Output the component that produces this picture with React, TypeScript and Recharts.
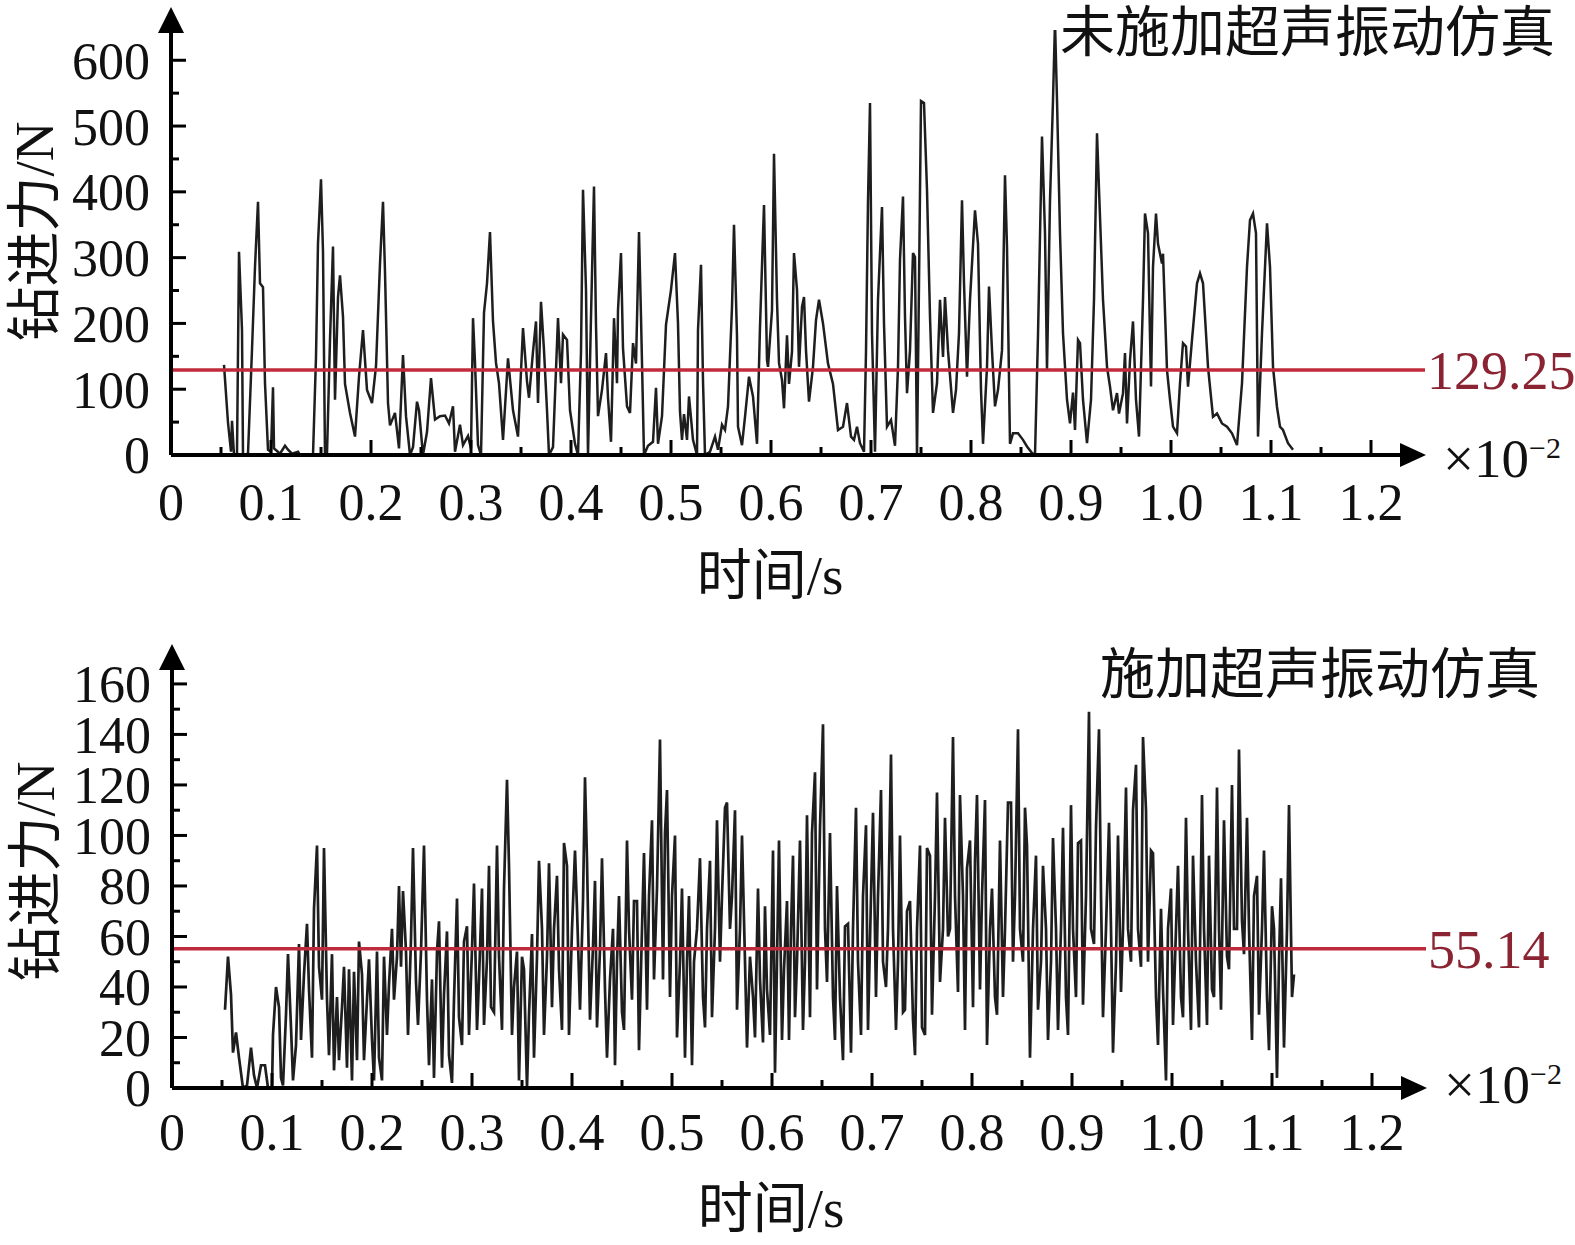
import { LineChart, Line, XAxis, YAxis, ReferenceLine, ReferenceDot } from "recharts";

const SERIF = '"Liberation Serif", "Times New Roman", "Noto Sans CJK SC", serif';
const INK = "#111111";
const TRACE = "#1e1e1e";
const RED_LINE = "#bf2b3b";
const RED_TEXT = "#8a2433";

const TOP_TITLE = "未施加超声振动仿真";
const BOTTOM_TITLE = "施加超声振动仿真";
const Y_TITLE = "钻进力/N";
const X_TITLE = "时间/s";

const X_TICKS = [0, 0.1, 0.2, 0.3, 0.4, 0.5, 0.6, 0.7, 0.8, 0.9, 1.0, 1.1, 1.2];
const X_MINOR = [0.05, 0.15, 0.25, 0.35, 0.45, 0.55, 0.65, 0.75, 0.85, 0.95, 1.05, 1.15];

const TOP_Y_TICKS = [0, 100, 200, 300, 400, 500, 600];
const TOP_Y_MINOR = [50, 150, 250, 350, 450, 550];
const BOTTOM_Y_TICKS = [0, 20, 40, 60, 80, 100, 120, 140, 160];
const BOTTOM_Y_MINOR = [10, 30, 50, 70, 90, 110, 130, 150];

const TOP_MEAN = 129.25;
const BOTTOM_MEAN = 55.14;

// [time (×10^-2 s), force (N)]
const TOP_POINTS: [number, number][] = [
  [0.053,137],[0.057,49],[0.060,5],[0.061,52],[0.063,0],[0.066,2],[0.068,309],[0.071,190],[0.072,0],[0.077,2],
  [0.081,160],[0.084,286],[0.087,385],[0.089,261],[0.092,255],[0.094,109],[0.097,8],[0.100,5],[0.102,103],[0.103,10],
  [0.106,6],[0.109,2],[0.114,14],[0.117,8],[0.121,2],[0.127,5],[0.129,0],[0.142,0],[0.145,149],[0.147,322],
  [0.150,419],[0.152,309],[0.154,0],[0.156,2],[0.159,175],[0.162,317],[0.164,84],[0.167,240],[0.169,273],[0.172,210],
  [0.174,108],[0.179,64],[0.184,28],[0.188,119],[0.192,190],[0.196,99],[0.201,79],[0.205,135],[0.209,291],[0.212,385],
  [0.214,278],[0.217,79],[0.219,45],[0.224,64],[0.228,10],[0.232,152],[0.235,59],[0.239,0],[0.242,12],[0.246,81],
  [0.248,68],[0.252,0],[0.256,35],[0.260,117],[0.264,54],[0.269,59],[0.274,60],[0.278,48],[0.282,74],[0.284,5],
  [0.289,46],[0.292,15],[0.297,29],[0.300,10],[0.302,208],[0.304,140],[0.307,15],[0.310,0],[0.313,216],[0.316,261],
  [0.319,339],[0.322,203],[0.325,140],[0.328,109],[0.332,23],[0.337,147],[0.342,68],[0.347,28],[0.352,193],[0.356,112],
  [0.358,87],[0.362,157],[0.365,203],[0.367,79],[0.370,233],[0.373,159],[0.376,68],[0.378,0],[0.382,12],[0.387,208],
  [0.390,109],[0.392,183],[0.396,175],[0.399,68],[0.404,17],[0.407,0],[0.410,157],[0.412,403],[0.415,251],[0.417,0],
  [0.420,210],[0.423,408],[0.425,198],[0.427,59],[0.431,99],[0.435,155],[0.437,87],[0.440,20],[0.443,208],[0.446,109],
  [0.447,220],[0.450,307],[0.452,162],[0.456,74],[0.459,64],[0.462,170],[0.465,139],[0.468,339],[0.470,210],[0.473,0],
  [0.477,14],[0.482,20],[0.485,102],[0.487,17],[0.491,59],[0.495,198],[0.500,251],[0.504,307],[0.507,200],[0.509,66],
  [0.511,23],[0.513,62],[0.516,23],[0.518,89],[0.522,23],[0.526,0],[0.527,190],[0.530,289],[0.532,113],[0.534,0],
  [0.539,5],[0.544,28],[0.547,8],[0.551,46],[0.554,38],[0.557,74],[0.561,225],[0.563,350],[0.566,180],[0.567,43],
  [0.571,15],[0.574,58],[0.578,119],[0.582,89],[0.586,17],[0.589,195],[0.593,380],[0.596,144],[0.597,134],[0.601,220],
  [0.603,458],[0.606,235],[0.608,140],[0.611,114],[0.613,71],[0.616,182],[0.618,108],[0.621,157],[0.623,307],[0.626,251],
  [0.628,134],[0.631,225],[0.633,240],[0.635,159],[0.638,81],[0.642,134],[0.645,205],[0.648,236],[0.652,200],[0.657,139],
  [0.662,108],[0.667,38],[0.672,43],[0.676,79],[0.680,28],[0.683,23],[0.686,43],[0.689,18],[0.693,5],[0.695,157],
  [0.697,387],[0.699,535],[0.701,185],[0.704,5],[0.707,236],[0.711,377],[0.713,200],[0.716,43],[0.720,53],[0.724,14],
  [0.727,134],[0.729,297],[0.732,393],[0.734,210],[0.736,94],[0.739,159],[0.742,307],[0.744,301],[0.746,0],[0.748,261],
  [0.750,538],[0.753,535],[0.756,403],[0.759,210],[0.762,64],[0.766,109],[0.769,236],[0.772,149],[0.774,240],[0.777,159],
  [0.782,64],[0.785,99],[0.788,185],[0.791,387],[0.793,261],[0.796,119],[0.799,236],[0.804,372],[0.807,321],[0.810,99],
  [0.812,17],[0.816,134],[0.818,256],[0.821,159],[0.824,74],[0.827,99],[0.831,159],[0.834,425],[0.836,316],[0.839,17],
  [0.842,33],[0.847,33],[0.852,23],[0.856,13],[0.861,3],[0.864,0],[0.867,182],[0.871,484],[0.874,337],[0.876,129],
  [0.879,387],[0.882,540],[0.884,658],[0.886,540],[0.889,337],[0.892,185],[0.896,84],[0.899,48],[0.902,95],[0.904,38],
  [0.907,175],[0.909,170],[0.912,84],[0.916,18],[0.920,84],[0.923,236],[0.926,489],[0.929,362],[0.932,236],[0.936,134],
  [0.939,104],[0.942,68],[0.946,94],[0.948,63],[0.952,94],[0.954,155],[0.956,48],[0.959,144],[0.962,203],[0.965,84],
  [0.968,28],[0.972,236],[0.974,367],[0.977,337],[0.980,104],[0.982,286],[0.985,367],[0.987,321],[0.991,291],[0.992,306],
  [0.996,129],[0.999,84],[1.002,43],[1.006,33],[1.009,109],[1.012,170],[1.015,165],[1.017,104],[1.021,175],[1.026,261],
  [1.029,276],[1.032,261],[1.037,134],[1.042,58],[1.046,63],[1.051,48],[1.056,43],[1.061,33],[1.066,15],[1.071,109],
  [1.076,286],[1.079,357],[1.082,367],[1.085,337],[1.087,28],[1.091,185],[1.096,352],[1.099,286],[1.102,134],[1.106,73],
  [1.109,43],[1.112,38],[1.117,18],[1.122,8],
];

const BOTTOM_POINTS: [number, number][] = [
  [0.053,31],[0.056,52],[0.059,37],[0.061,14],[0.064,22],[0.067,12],[0.071,0],[0.075,1],[0.079,16],[0.082,5],
  [0.085,0],[0.089,9],[0.093,9],[0.096,0],[0.100,0],[0.101,21],[0.104,40],[0.107,32],[0.109,4],[0.111,1],
  [0.114,29],[0.116,53],[0.119,24],[0.121,3],[0.124,17],[0.127,57],[0.129,19],[0.132,45],[0.135,65],[0.137,39],
  [0.140,12],[0.142,71],[0.145,96],[0.147,48],[0.150,35],[0.152,95],[0.155,35],[0.157,13],[0.160,53],[0.162,7],
  [0.165,36],[0.167,11],[0.170,32],[0.172,48],[0.175,8],[0.177,47],[0.180,3],[0.182,46],[0.185,11],[0.187,58],
  [0.190,45],[0.192,11],[0.195,35],[0.197,51],[0.200,19],[0.202,3],[0.205,54],[0.207,12],[0.210,3],[0.212,52],
  [0.215,21],[0.217,41],[0.220,63],[0.222,35],[0.225,52],[0.227,80],[0.229,48],[0.231,78],[0.234,54],[0.236,21],
  [0.239,59],[0.241,95],[0.244,42],[0.246,25],[0.249,54],[0.252,96],[0.255,35],[0.257,9],[0.260,43],[0.262,4],
  [0.265,54],[0.267,66],[0.270,8],[0.272,37],[0.275,62],[0.277,13],[0.280,2],[0.282,35],[0.285,75],[0.287,28],
  [0.290,17],[0.292,58],[0.295,64],[0.297,21],[0.300,55],[0.302,81],[0.305,23],[0.307,43],[0.310,79],[0.312,25],
  [0.315,51],[0.317,88],[0.319,32],[0.322,30],[0.325,96],[0.327,52],[0.330,23],[0.332,79],[0.335,122],[0.337,88],
  [0.340,21],[0.342,40],[0.345,54],[0.347,3],[0.350,52],[0.352,47],[0.355,0],[0.357,29],[0.360,61],[0.362,12],
  [0.365,52],[0.367,90],[0.370,63],[0.372,21],[0.375,52],[0.377,89],[0.380,32],[0.382,63],[0.385,84],[0.387,47],
  [0.390,23],[0.392,97],[0.395,88],[0.397,21],[0.400,63],[0.403,94],[0.405,71],[0.408,31],[0.411,74],[0.413,123],
  [0.415,90],[0.418,27],[0.421,56],[0.423,82],[0.425,24],[0.428,55],[0.430,91],[0.433,39],[0.435,12],[0.438,43],
  [0.441,63],[0.443,9],[0.445,50],[0.447,76],[0.450,30],[0.452,23],[0.455,98],[0.457,63],[0.460,35],[0.462,74],
  [0.465,74],[0.467,15],[0.470,63],[0.472,93],[0.475,31],[0.477,76],[0.480,106],[0.482,43],[0.485,79],[0.488,138],
  [0.491,43],[0.493,101],[0.495,118],[0.498,36],[0.500,76],[0.503,100],[0.505,20],[0.508,50],[0.510,79],[0.513,12],
  [0.515,50],[0.517,76],[0.520,9],[0.522,50],[0.525,63],[0.528,91],[0.531,36],[0.533,24],[0.535,63],[0.538,90],
  [0.540,28],[0.543,63],[0.545,106],[0.548,50],[0.550,76],[0.553,111],[0.555,113],[0.558,63],[0.560,76],[0.563,110],
  [0.565,31],[0.568,63],[0.570,100],[0.573,50],[0.575,16],[0.578,52],[0.581,36],[0.583,20],[0.586,79],[0.588,43],
  [0.591,18],[0.593,72],[0.595,39],[0.598,21],[0.601,94],[0.603,6],[0.605,50],[0.607,98],[0.610,19],[0.612,47],
  [0.615,74],[0.617,19],[0.619,63],[0.621,92],[0.623,28],[0.625,50],[0.628,98],[0.631,23],[0.633,50],[0.635,108],
  [0.638,28],[0.640,101],[0.643,125],[0.645,39],[0.648,103],[0.651,144],[0.653,63],[0.655,42],[0.658,101],[0.661,36],
  [0.663,19],[0.665,80],[0.668,36],[0.671,11],[0.673,64],[0.676,65],[0.679,14],[0.681,63],[0.684,111],[0.686,50],
  [0.689,21],[0.691,76],[0.694,104],[0.696,23],[0.699,76],[0.701,109],[0.704,36],[0.706,76],[0.709,118],[0.711,50],
  [0.714,40],[0.716,63],[0.719,132],[0.721,63],[0.724,23],[0.726,50],[0.728,100],[0.731,30],[0.733,31],[0.735,70],
  [0.738,74],[0.741,27],[0.743,13],[0.745,63],[0.748,96],[0.750,24],[0.753,21],[0.755,95],[0.758,92],[0.760,29],
  [0.763,76],[0.765,117],[0.768,42],[0.771,63],[0.773,107],[0.776,60],[0.778,63],[0.781,139],[0.783,76],[0.786,38],
  [0.788,116],[0.791,76],[0.793,23],[0.795,87],[0.798,98],[0.801,32],[0.803,90],[0.805,116],[0.808,39],[0.810,76],
  [0.813,114],[0.815,17],[0.818,63],[0.820,79],[0.823,36],[0.825,29],[0.828,98],[0.831,36],[0.833,63],[0.836,113],
  [0.839,113],[0.841,50],[0.843,76],[0.846,142],[0.848,63],[0.851,50],[0.853,111],[0.855,96],[0.858,12],[0.861,63],
  [0.864,92],[0.866,31],[0.869,50],[0.871,88],[0.874,63],[0.876,19],[0.879,50],[0.881,99],[0.884,63],[0.886,23],
  [0.889,63],[0.891,103],[0.894,36],[0.896,21],[0.899,112],[0.901,63],[0.904,36],[0.906,97],[0.909,98],[0.911,33],
  [0.914,76],[0.917,149],[0.919,63],[0.922,57],[0.924,103],[0.927,142],[0.929,76],[0.931,28],[0.934,63],[0.937,105],
  [0.939,63],[0.941,14],[0.944,50],[0.946,100],[0.949,38],[0.951,63],[0.954,119],[0.956,63],[0.959,50],[0.961,110],
  [0.964,128],[0.966,63],[0.969,48],[0.971,139],[0.974,110],[0.976,50],[0.979,94],[0.981,93],[0.984,36],[0.986,17],
  [0.989,71],[0.991,39],[0.994,3],[0.996,63],[0.999,79],[1.001,25],[1.004,63],[1.006,88],[1.009,36],[1.011,28],
  [1.014,107],[1.016,63],[1.019,23],[1.021,92],[1.024,50],[1.027,24],[1.030,116],[1.032,63],[1.035,25],[1.037,92],
  [1.040,39],[1.042,36],[1.045,119],[1.047,63],[1.049,31],[1.052,106],[1.055,52],[1.057,47],[1.060,120],[1.062,63],
  [1.065,63],[1.067,134],[1.070,66],[1.072,53],[1.075,107],[1.077,63],[1.080,19],[1.082,76],[1.085,84],[1.087,29],
  [1.090,63],[1.092,94],[1.095,36],[1.097,15],[1.100,72],[1.102,63],[1.105,4],[1.107,50],[1.109,83],[1.112,16],
  [1.115,63],[1.117,112],[1.120,36],[1.122,45],
];

const X_MAX = 1.23;

function fmtX(v: number) {
  return v === 0 ? "0" : v.toFixed(1);
}

// short inward tick marks, anchored through the chart scales
const upTick = (len: number) => (p: any) => (
  <line x1={p.cx} y1={p.cy} x2={p.cx} y2={p.cy - len} stroke="#000" strokeWidth={3} />
);
const rightTick = (len: number) => (p: any) => (
  <line x1={p.cx} y1={p.cy} x2={p.cx + len} y2={p.cy} stroke="#000" strokeWidth={3} />
);
const upArrow = (p: any) => (
  <polygon points={`${p.cx},${p.cy - 23} ${p.cx - 13},${p.cy + 3} ${p.cx + 13},${p.cy + 3}`} fill="#000" />
);
const rightArrow = (p: any) => (
  <polygon points={`${p.cx + 25},${p.cy} ${p.cx - 1},${p.cy - 12} ${p.cx - 1},${p.cy + 12}`} fill="#000" />
);

function YTitle(props: any) {
  const { viewBox, shiftY = 0 } = props;
  const x = viewBox.x + 32;
  const y = viewBox.y + viewBox.height / 2 + shiftY;
  return (
    <text x={x} y={y} transform={`rotate(-90 ${x} ${y})`} textAnchor="middle" fontSize={55} fontFamily={SERIF} fill={INK}>
      {Y_TITLE}
    </text>
  );
}

function XTitle(props: any) {
  const { viewBox, expY = 22 } = props;
  const cx = viewBox.x + 599;
  const base = viewBox.y + 139;
  const ex = viewBox.x + viewBox.width + 42;
  const ey = viewBox.y + expY;
  return (
    <g>
      <text x={cx} y={base} textAnchor="middle" fontSize={55} fontFamily={SERIF} fill={INK}>
        {X_TITLE}
      </text>
      <text x={ex} y={ey} fontSize={55} fontFamily={SERIF} fill={INK}>
        ×10
        <tspan fontSize={30} dy={-19}>−2</tspan>
      </text>
    </g>
  );
}

interface PanelProps {
  points: [number, number][];
  yMax: number;
  yTicks: number[];
  yMinor: number[];
  mean: number;
  height: number;
  top: number;
  left: number;
  right: number;
  xAxisHeight: number;
  xTickMargin: number;
  yTitleShift: number;
  expY: number;
  lineWidth: number;
}

function ForcePanel(p: PanelProps) {
  const data = p.points.map(([t, f]) => ({ t, f }));
  return (
    <LineChart
      width={1575}
      height={p.height}
      data={data}
      margin={{ top: p.top, right: p.right, left: p.left, bottom: 0 }}
    >
      <XAxis
        type="number"
        dataKey="t"
        domain={[0, X_MAX]}
        allowDataOverflow
        ticks={X_TICKS}
        interval={0}
        tickFormatter={fmtX}
        tickLine={false}
        tickSize={0}
        tickMargin={p.xTickMargin}
        axisLine={{ stroke: "#000", strokeWidth: 4 }}
        tick={{ fontSize: 52, fill: INK, fontFamily: SERIF }}
        height={p.xAxisHeight}
        label={<XTitle expY={p.expY} />}
      />
      <YAxis
        type="number"
        domain={[0, p.yMax]}
        allowDataOverflow
        ticks={p.yTicks}
        interval={0}
        tickLine={false}
        tickSize={0}
        tickMargin={21}
        axisLine={{ stroke: "#000", strokeWidth: 4 }}
        tick={{ fontSize: 52, fill: INK, fontFamily: SERIF }}
        width={150}
        label={<YTitle shiftY={p.yTitleShift} />}
      />
      {X_TICKS.filter((v) => v > 0).map((v) => (
        <ReferenceDot key={`xt${v}`} x={v} y={0} ifOverflow="visible" shape={upTick(15)} />
      ))}
      {X_MINOR.map((v) => (
        <ReferenceDot key={`xm${v}`} x={v} y={0} ifOverflow="visible" shape={upTick(8)} />
      ))}
      {p.yTicks.filter((v) => v > 0).map((v) => (
        <ReferenceDot key={`yt${v}`} x={0} y={v} ifOverflow="visible" shape={rightTick(15)} />
      ))}
      {p.yMinor.map((v) => (
        <ReferenceDot key={`ym${v}`} x={0} y={v} ifOverflow="visible" shape={rightTick(8)} />
      ))}
      <ReferenceDot x={0} y={p.yMax} ifOverflow="visible" shape={upArrow} />
      <ReferenceDot x={X_MAX} y={0} ifOverflow="visible" shape={rightArrow} />
      <Line
        type="linear"
        dataKey="f"
        stroke={TRACE}
        strokeWidth={p.lineWidth}
        dot={false}
        activeDot={false}
        isAnimationActive={false}
      />
      <ReferenceLine
        segment={[
          { x: 0, y: p.mean },
          { x: 1.254, y: p.mean },
        ]}
        ifOverflow="visible"
        stroke={RED_LINE}
        strokeWidth={3.5}
        label={{
          value: p.mean.toFixed(2),
          position: "right",
          offset: 2,
          fill: RED_TEXT,
          fontSize: 54,
          fontFamily: SERIF,
        }}
      />
    </LineChart>
  );
}

export default function App() {
  return (
    <div style={{ position: "absolute", left: 0, top: 0, width: 1575, height: 1245, background: "#fff" }}>
      <div style={{ position: "absolute", left: 0, top: 0 }}>
        <ForcePanel
          points={TOP_POINTS}
          yMax={646}
          yTicks={TOP_Y_TICKS}
          yMinor={TOP_Y_MINOR}
          mean={TOP_MEAN}
          height={610}
          top={30}
          left={21}
          right={174}
          xAxisHeight={155}
          xTickMargin={28}
          yTitleShift={-11}
          expY={22}
          lineWidth={2.5}
        />
      </div>
      <div style={{ position: "absolute", left: 0, top: 620 }}>
        <ForcePanel
          points={BOTTOM_POINTS}
          yMax={166.7}
          yTicks={BOTTOM_Y_TICKS}
          yMinor={BOTTOM_Y_MINOR}
          mean={BOTTOM_MEAN}
          height={625}
          top={47}
          left={22}
          right={173}
          xAxisHeight={157}
          xTickMargin={25}
          yTitleShift={-6}
          expY={15}
          lineWidth={2.7}
        />
      </div>
      <svg width={1575} height={1245} style={{ position: "absolute", left: 0, top: 0, pointerEvents: "none" }}>
        <text x={1555} y={51} textAnchor="end" fontSize={55} fontFamily={SERIF} fill={INK}>
          {TOP_TITLE}
        </text>
        <text x={1540} y={693} textAnchor="end" fontSize={55} fontFamily={SERIF} fill={INK}>
          {BOTTOM_TITLE}
        </text>
      </svg>
    </div>
  );
}
